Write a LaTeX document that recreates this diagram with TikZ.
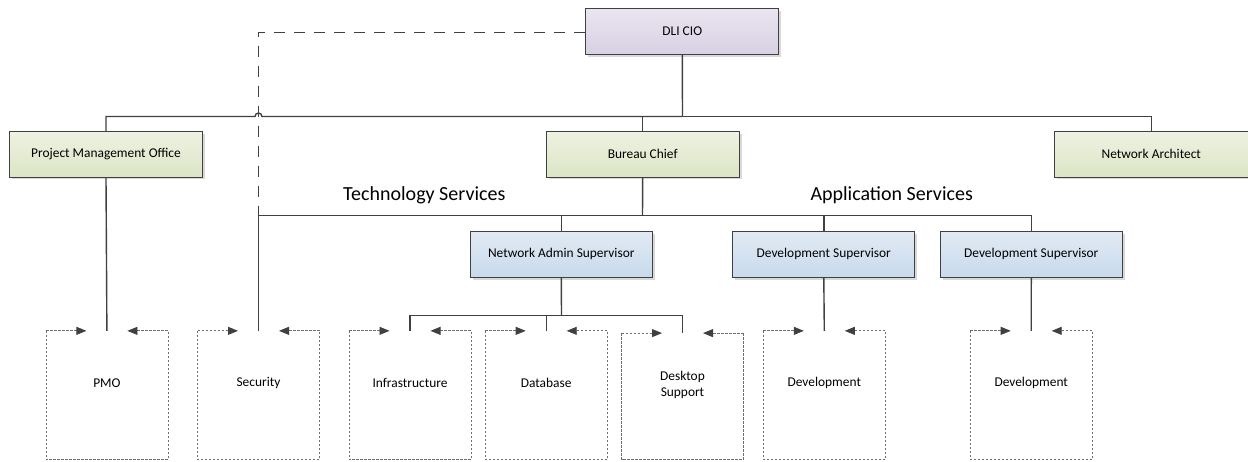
\documentclass[tikz,border=0pt]{standalone}
\usepackage{fontspec}
\setmainfont{Carlito}
\usetikzlibrary{arrows.meta,calc}
\definecolor{edge}{HTML}{404040}
\definecolor{unitgrey}{HTML}{6E6E6E}
\definecolor{purpleA}{HTML}{EAE5F0}
\definecolor{purpleB}{HTML}{D8D0E4}
\definecolor{greenA}{HTML}{EEF2E2}
\definecolor{greenB}{HTML}{DCE5C5}
\definecolor{blueA}{HTML}{E1EAF4}
\definecolor{blueB}{HTML}{C8DAEC}
\tikzset{
  x=1pt,y=-1pt,
  boxbase/.style={draw=edge,line width=0.9pt,font=\fontsize{13.4}{15}\selectfont,
    preaction={fill=black!15,transform canvas={xshift=2.5pt,yshift=-2.5pt}}},
  ciobox/.style={boxbase,minimum width=193pt,minimum height=45.6pt,top color=purpleA,bottom color=purpleB},
  greenbox/.style={boxbase,minimum width=193.4pt,minimum height=45.3pt,top color=greenA,bottom color=greenB},
  bluebox/.style={boxbase,minimum width=182pt,minimum height=46pt,top color=blueA,bottom color=blueB},
  unitbox/.style={minimum width=121.6pt,minimum height=128.3pt,inner sep=0pt},
  unitline/.style={draw=unitgrey,line width=0.8pt,dash pattern=on 2.6pt off 1.4pt},
  unitarrow/.style={unitline,-{Triangle[length=10pt,width=8pt,fill=edge,color=edge]}},
  unitlabel/.style={font=\fontsize{13.4}{16}\selectfont,align=center},
  conn/.style={draw=edge,line width=1.4pt},
  dashconn/.style={draw=edge,line width=1.4pt,dash pattern=on 11pt off 9pt},
  grouplabel/.style={font=\fontsize{20}{24}\selectfont}
}
\begin{document}
\begin{tikzpicture}
\useasboundingbox (0,0) rectangle (1248,461);
% main boxes
\node[ciobox] (cio) at (682.3,31.5) {DLI CIO};
\node[greenbox] (pmo) at (106,154.3) {Project Management Office};
\node[greenbox] (bc) at (642.7,154.3) {Bureau Chief};
\node[greenbox] (na) at (1151.3,154.3) {Network Architect};
\node[bluebox] (nas) at (561.3,254.3) {Network Admin Supervisor};
\node[bluebox] (ds1) at (823.8,254.3) {Development Supervisor};
\node[bluebox] (ds2) at (1031.3,254.3) {Development Supervisor};
% unit boxes
\node[unitbox] (upmo) at (106.9,395.2) {};
\node[unitbox] (usec) at (258.5,395.2) {};
\node[unitbox] (uinf) at (410,395.2) {};
\node[unitbox] (udb) at (546.2,395.2) {};
\node[unitbox,minimum height=126pt] (uds) at (682.5,396.3) {};
\node[unitbox] (udev1) at (824.3,395.2) {};
\node[unitbox] (udev2) at (1031.2,395.2) {};
\foreach \u in {upmo,usec,uinf,udb,uds,udev1,udev2}{
  \draw[unitline] (\u.north west) -- (\u.south west) -- (\u.south east) -- (\u.north east);
  \draw[unitarrow] (\u.north west) -- ($(\u.north)+(-20.5,0)$);
  \draw[unitarrow] (\u.north east) -- ($(\u.north)+(20.5,0)$);
}
\node[unitlabel] (lpmo) at (106.9,383.3) {PMO};
\node[unitlabel] (lsec) at (258.5,383.3) {Security};
\node[unitlabel] (linf) at (410,383.3) {Infrastructure};
\node[unitlabel] (ldb) at (546.2,383.3) {Database};
\node[unitlabel] (lds) at (682.5,384.5) {Desktop\\Support};
\node[unitlabel] (ldev1) at (824.3,383.3) {Development};
\node[unitlabel] (ldev2) at (1031.2,383.3) {Development};
% group labels
\node[grouplabel] (tech) at (424.3,195.5) {Technology Services};
\node[grouplabel] (app) at (891.7,195.5) {Application Services};
% bus coordinates
\coordinate (bus1) at (682.5,116.5);
\coordinate (jumpR) at (262,116.5);
\coordinate (bus2) at (642.5,215.5);
\coordinate (bus2L) at (258.5,215.5);
\coordinate (bus3) at (561.5,315.5);
\coordinate (dashcorner) at (258.5,32.5);
% connectors
\draw[conn] (cio.south) -- (bus1);
\draw[conn] (bus1) -- (jumpR) arc[start angle=0,end angle=180,radius=3.5pt] -| (pmo.north);
\draw[conn] (bus1) -| (na.north);
\draw[conn] (bc.north) -- (bc.north |- bus1);
\draw[conn] (bc.south) -- (bus2);
\draw[conn] (bus2L) -- (ds2.north |- bus2) -- (ds2.north);
\draw[conn] (bus2L) -- (usec.north);
\draw[conn] (nas.north |- bus2) -- (nas.north);
\draw[conn] (ds1.north |- bus2) -- (ds1.north);
\draw[conn] (pmo.south) -- (upmo.north);
\draw[conn] (nas.south) -- (bus3);
\draw[conn] (uinf.north) |- (bus3) -| (uds.north);
\draw[conn] (udb.north) -- (udb.north |- bus3);
\draw[conn] (ds1.south) -- (udev1.north);
\draw[conn] (ds2.south) -- (udev2.north);
\draw[dashconn] (cio.west |- dashcorner) -- (dashcorner) -- (bus2L);
\end{tikzpicture}
\end{document}
